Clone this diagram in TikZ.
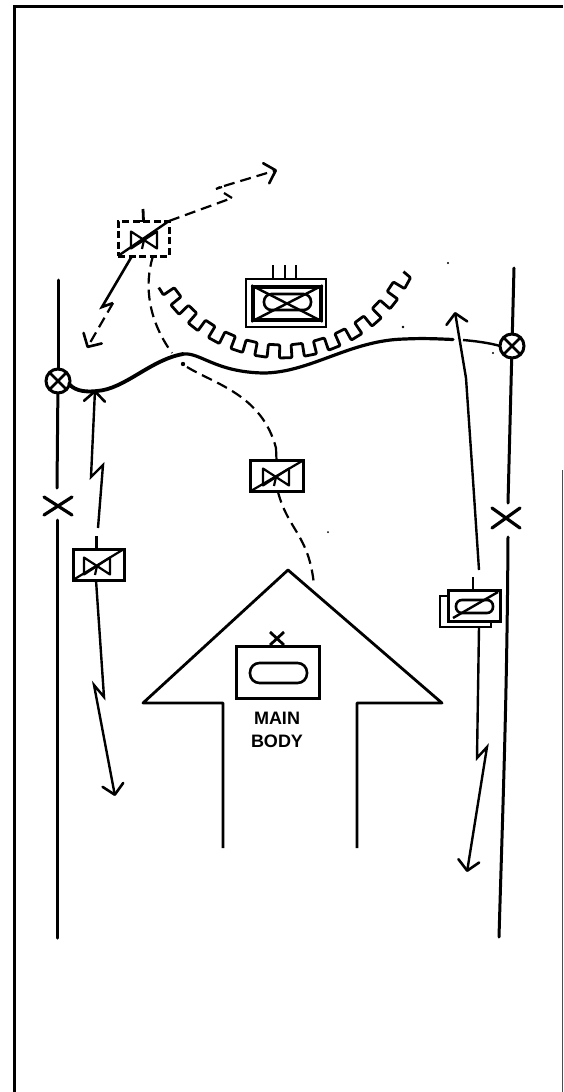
\documentclass[tikz,border=0pt]{standalone}
\usepackage{fontspec}
\setmainfont{Liberation Sans}
\usetikzlibrary{arrows.meta}
\tikzset{
  x=1pt,y=-1pt,
  road/.style={line width=3pt,line cap=round},
  linkline/.style={line width=2.4pt,line join=miter},
  dashline/.style={line width=2.2pt,dash pattern=on 11pt off 6pt},
  barb/.style={-{Straight Barb[length=10pt,width=21pt,line width=2.6pt,round]}},
  unitbox/.style={draw,line width=3pt,minimum width=#1,minimum height=31pt,inner sep=0pt,outer sep=0pt},
  unitbox/.default=51pt,
  maintext/.style={font=\bfseries\fontsize{18}{23}\selectfont,align=center,inner sep=0pt},
  lamp/.style={circle,draw,line width=3pt,minimum size=24pt,inner sep=0pt,outer sep=0pt,fill=white},
  valve/.pic={
    \draw[line width=2.2pt,line join=round] (-13,-8.5) -- (13,8.5) -- (13,-8.5) -- (-13,8.5) -- cycle;
    \draw[line width=2.2pt] (0,0) -- (-2,9);
  },
}
\begin{document}
\begin{tikzpicture}
\useasboundingbox (0,0) rectangle (563,1092);
% frame
\draw[line width=3pt] (14,1092) -- (14,6.5) -- (563,6.5);
\draw[line width=1pt,black!70] (562.5,470) -- (562.5,1092);
% ---- roads
\node[lamp] (lampL) at (58,381) {};
\node[lamp] (lampR) at (512,346) {};
\foreach \n in {lampL,lampR}{
  \draw[line width=2.6pt] (\n.north west) -- (\n.south east);
  \draw[line width=2.6pt] (\n.north east) -- (\n.south west);
}
\coordinate (LT) at (58,280);
\coordinate (LA) at (57,488);
\coordinate (LB) at (57,520);
\coordinate (LE) at (57,938);
\coordinate (RT) at (514,268);
\coordinate (RA) at (508,503);
\coordinate (RB) at (508,537);
\coordinate (RE) at (499,937);
\draw[road] (LT) -- (lampL);
\draw[road] (lampL) -- (LA);
\draw[road] (LB) -- (LE);
\draw[road] (RT) -- (lampR);
\draw[road] (lampR) -- (RA);
\draw[road] (RB) .. controls (507,700) and (503,800) .. (RE);
% X marks on the roads
\draw[line width=3.2pt,line cap=round] (44,497) -- (72,515) (44,515) -- (72,497);
\draw[line width=3.2pt,line cap=round] (492,508) -- (520,528) (492,528) -- (520,508);
% ---- thick curve between the lamps
\coordinate (CL) at (69,384);
\coordinate (CP) at (183,354);
\coordinate (CGap) at (453,339.5);
\coordinate (CGapB) at (463,340);
\draw[line width=3.8pt,line cap=round] (CL) .. controls (76,392) and (88,392) .. (97,391)
  .. controls (125,389) and (150,360) .. (CP);
\draw[line width=3.2pt,line cap=round] (CP) .. controls (200,352) and (215,372) .. (263,373)
  .. controls (310,373) and (350,340) .. (405,339)
  .. controls (425,338) and (440,339) .. (CGap);
\draw[line width=2.4pt] (CGapB) .. controls (475,341) and (490,343) .. (lampR.west);
% ---- gear-shaped obstacle
\draw[line width=2.8pt,line join=round,rounded corners=1pt]
  ({282+143*cos(149.5)},{215+143*sin(149.5)})
  \foreach \a in {146,136,...,36}{
    -- ({282+143*cos(\a)},{215+143*sin(\a)})
    -- ({282+130*cos(\a)},{215+130*sin(\a)})
    -- ({282+130*cos(\a-5)},{215+130*sin(\a-5)})
    -- ({282+143*cos(\a-5)},{215+143*sin(\a-5)})
  }
  -- ({282+143*cos(26)},{215+143*sin(26)})
  -- ({282+134*cos(25)},{215+134*sin(25)});
% ---- tank symbol
\node[draw,line width=2.8pt,minimum width=80pt,minimum height=48pt,inner sep=0pt] (tank) at (286,303) {};
\node[draw,line width=3.2pt,minimum width=68pt,minimum height=33pt,inner sep=0pt] (tankin) at (287,303.5) {};
\node[draw,line width=2.6pt,rounded corners=7.5pt,minimum width=47pt,minimum height=16pt,inner sep=0pt] (tankoval) at (287.5,302) {};
\draw[line width=2.4pt] (tankin.north west) -- (tankin.south east) (tankin.north east) -- (tankin.south west);
\foreach \x in {273,285,296}{
  \draw[line width=2.6pt] (\x,265) -- (\x,279);
}
% ---- dashed unit at the top
\node[unitbox=51pt,dash pattern=on 7pt off 3.5pt,minimum height=35pt] (uA) at (143.5,238.5) {};
\pic at (144,240) {valve};
\draw[line width=2.4pt] (uA.south west) -- (uA.north east);
\draw[line width=2.8pt] (143,209) -- (uA.north);
\draw[line width=2.6pt] (140,221) -- (146,221);
\coordinate (zA) at (232,198);
\coordinate (zB) at (216,189);
\coordinate (tipA) at (277,170);
\draw[dashline] (uA.north east) -- (zA);
\draw[line width=2.2pt] (zA) -- (224,193);
\draw[line width=2.2pt] (222,187) -- (zB) -- (220,187);
\draw[dashline,barb] (224,186) -- (tipA);
\coordinate (zC) at (102,307);
\coordinate (zD) at (113,303);
\coordinate (tipB) at (87,348);
\draw[line width=2.6pt] (132,256) -- (zC) -- (zD);
\draw[dashline,barb] (zD) -- (tipB);
% ---- unit 2 and its dashed link
\node[unitbox=53pt] (uB) at (276.5,476) {};
\pic at (276,477) {valve};
\draw[line width=2.2pt] (uB.south west) -- (uB.north east);
\draw[dashline] (153,256) .. controls (144,285) and (148,320) .. (172,353);
\fill (183,364) circle (2.2pt);
\coordinate (dS) at (187,367);
\draw[dashline] (dS) .. controls (215,384) and (262,395) .. (276,448);
\draw[line width=2.2pt] (276,448) -- (uB.north);
\draw[dashline] (278,492) .. controls (288,530) and (309,535) .. (314,585);
% ---- unit 3 and the left links
\node[unitbox=51pt] (uC) at (98.5,564.5) {};
\pic at (97,566) {valve};
\draw[line width=2.2pt] (uC.south west) -- (uC.north east);
\draw[line width=2.4pt] (96.5,536) -- (96.5,549);
\draw[linkline,barb] (98,528) -- (103,465) -- (91,477) -- (95,390);
\draw[linkline,barb] (96,580) -- (104,697) -- (94,685) -- (115,796);
% ---- right unit and its links
\node[draw,line width=2.8pt,fill=white,minimum width=51pt,minimum height=31pt,inner sep=0pt] (uDb) at (465.5,611.5) {};
\node[unitbox=52pt,fill=white] (uD) at (474,606) {};
\node[draw,line width=2.6pt,rounded corners=6pt,minimum width=37pt,minimum height=13pt,inner sep=0pt] (uDp) at (474.5,606.5) {};
\draw[line width=2.4pt] (453,618) -- (498,592);
\draw[line width=2.4pt] (473,577) -- (473,590);
\draw[linkline,barb] (479,570) -- (473,480) -- (466,378) -- (455,312);
\draw[linkline,barb] (479,627) -- (477,758) -- (487,747) -- (467,872);
% ---- main body arrow
\coordinate (aS) at (223,848);
\coordinate (aN) at (223,703);
\coordinate (aL) at (143,703);
\coordinate (aT) at (288,570);
\coordinate (aR) at (442,703);
\coordinate (aM) at (357,703);
\coordinate (aE) at (357,848);
\draw[line width=2.8pt,line join=round] (aS) -- (aN) -- (aL) -- (aT) -- (aR) -- (aM) -- (aE);
\node[draw,line width=3pt,minimum width=83pt,minimum height=52pt,inner sep=0pt] (hq) at (277.5,672) {};
\node[draw,line width=2.6pt,rounded corners=9.5pt,minimum width=57pt,minimum height=20pt,inner sep=0pt] (hqp) at (278.5,673) {};
\draw[line width=2.8pt] (270,632) -- (284,645) (284,632) -- (270,645);
\node[maintext] (mb) at (277,730) {MAIN\\BODY};
% ---- specks
\fill (448,263) circle (1.2pt) (403,327) circle (1.3pt) (493,353) circle (1.1pt) (328,532) circle (1pt);
\end{tikzpicture}
\end{document}
